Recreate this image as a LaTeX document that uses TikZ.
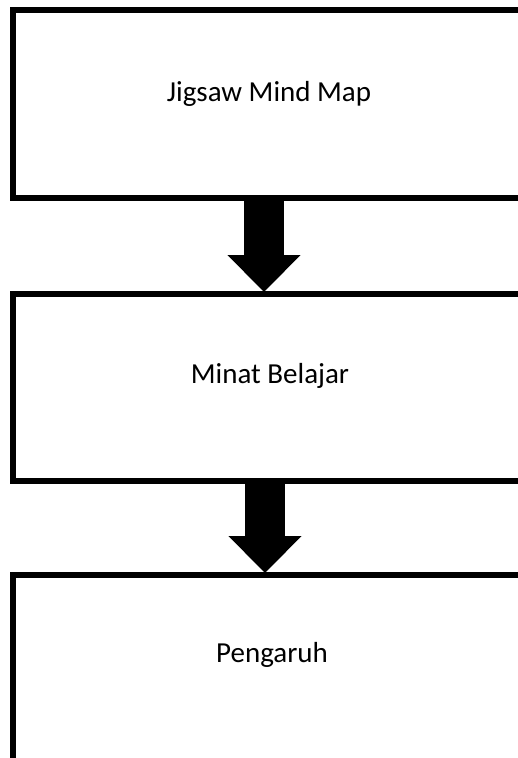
\documentclass[tikz,border=0pt]{standalone}
\usepackage{fontspec}
\setmainfont{Carlito}
\usetikzlibrary{arrows.meta}
\begin{document}
\begin{tikzpicture}[x=1pt,y=-1pt,
 box/.style={draw=black,line width=6pt,rectangle,minimum width=514pt,inner sep=0pt,outer sep=0pt},
 lbl/.style={font=\fontsize{29}{35}\selectfont,anchor=base,inner sep=0pt},
 blockarrow/.style={line width=40pt,-{Triangle[width=71pt,length=37pt]}}]
\useasboundingbox (0,0) rectangle (518,758);
\node[box,minimum height=188pt] (b1) at (270,104) {};
\node[box,minimum height=187.5pt] (b2) at (270,387.25) {};
\node[box,minimum height=200pt] (b3) at (270,674.5) {};
\node[lbl] (t1) at (269,101) {Jigsaw Mind Map};
\node[lbl] (t2) at (270,383) {Minat Belajar};
\node[lbl] (t3) at (272,662) {Pengaruh};
\draw[blockarrow] ([xshift=-6pt]b1.south) -- ([xshift=-6pt,yshift=1.5pt]b2.north);
\draw[blockarrow] ([xshift=-5pt]b2.south) -- ([xshift=-5pt,yshift=1.5pt]b3.north);
\end{tikzpicture}
\end{document}
